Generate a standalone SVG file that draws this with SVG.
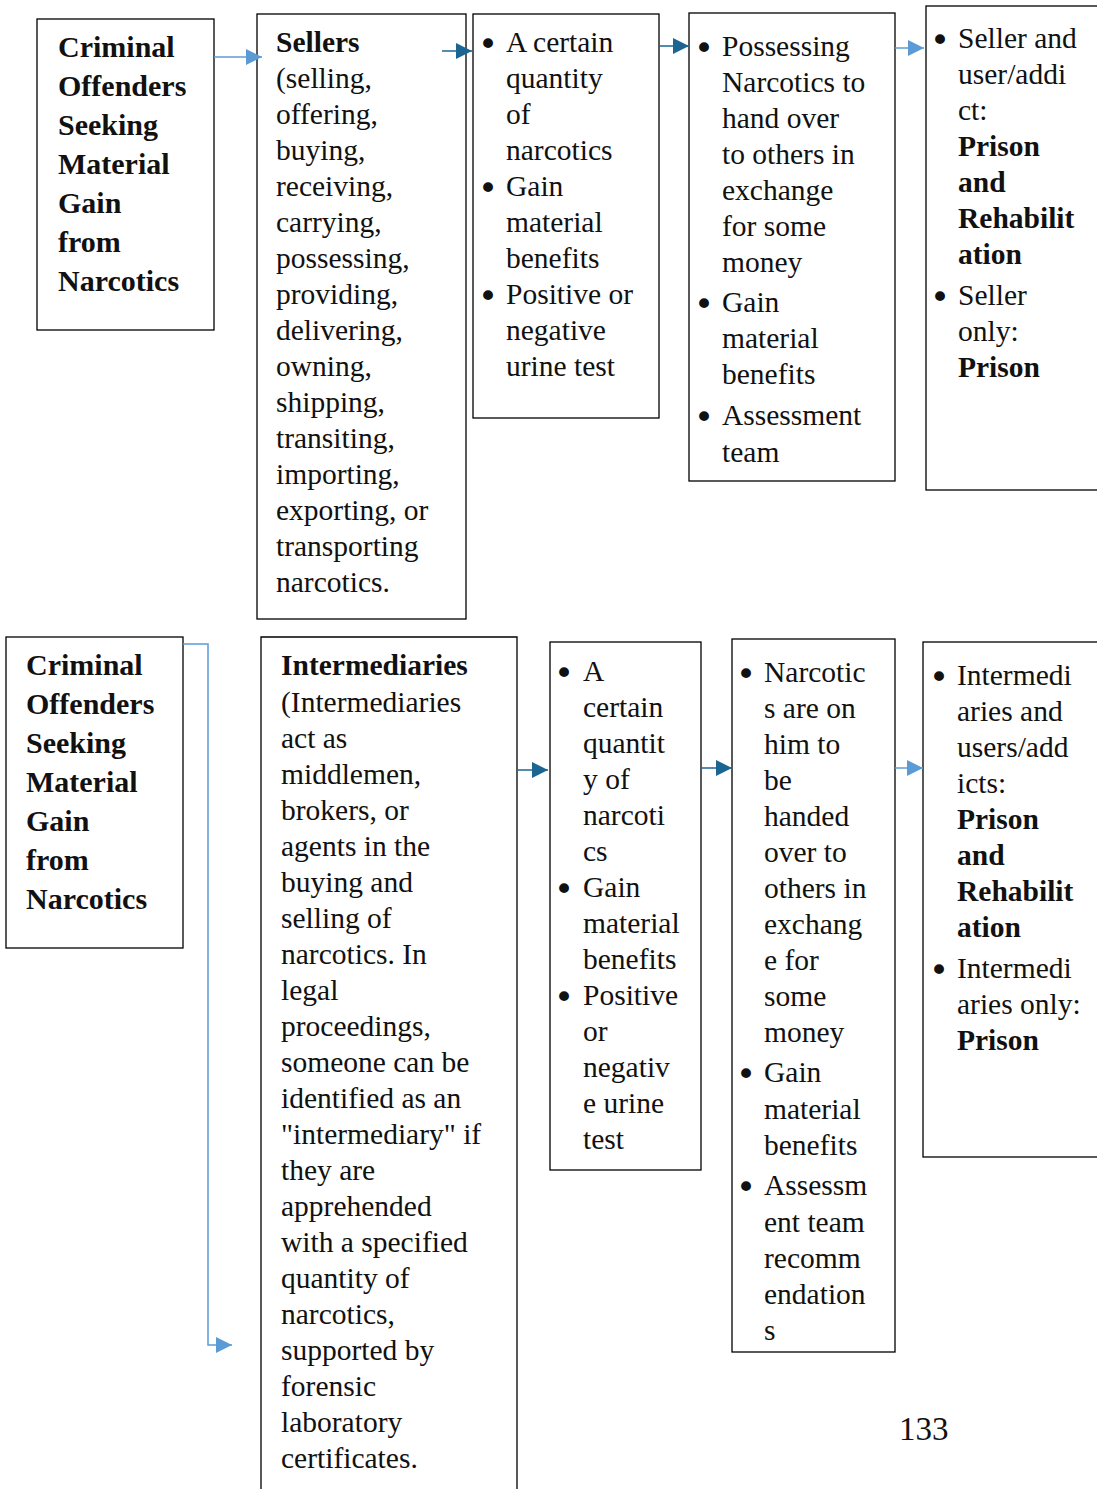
<svg xmlns="http://www.w3.org/2000/svg" width="1097" height="1489" viewBox="0 0 1097 1489" font-family="'Liberation Serif', 'DejaVu Serif', serif">
<style>
.box{fill:#fff;stroke:#000;stroke-width:1.3}
text{font-family:"Liberation Serif","DejaVu Serif",serif;font-size:29.5px;fill:#111}
.b{font-weight:bold}
.t{font-weight:bold;font-size:30px}
.bu{font-size:34px;font-family:"DejaVu Sans",sans-serif}
.lc{fill:none;stroke:#5b9bd5;stroke-width:1.5}
.dc{fill:none;stroke:#1c6491;stroke-width:1.5}
</style>
<defs>
<marker id="lab" viewBox="0 0 10 10" refX="10" refY="5" markerWidth="16" markerHeight="16" markerUnits="userSpaceOnUse" orient="auto"><path d="M0,0L10,5L0,10z" fill="#5b9bd5"/></marker>
<marker id="dab" viewBox="0 0 10 10" refX="10" refY="5" markerWidth="16" markerHeight="16" markerUnits="userSpaceOnUse" orient="auto"><path d="M0,0L10,5L0,10z" fill="#1c6491"/></marker>
</defs>

<g id="node-offenders-top">
<rect class="box" x="37" y="19" width="177" height="311"/>
<text class="t"><tspan x="58" y="57">Criminal</tspan><tspan x="58" y="96">Offenders</tspan><tspan x="58" y="135">Seeking</tspan><tspan x="58" y="174">Material</tspan><tspan x="58" y="213">Gain</tspan><tspan x="58" y="252">from</tspan><tspan x="58" y="291">Narcotics</tspan></text>
</g>

<g id="node-sellers">
<rect class="box" x="257" y="14" width="209" height="605"/>
<text><tspan class="b" x="276" y="52">Sellers</tspan><tspan x="276" y="88">(selling,</tspan><tspan x="276" y="124">offering,</tspan><tspan x="276" y="160">buying,</tspan><tspan x="276" y="196">receiving,</tspan><tspan x="276" y="232">carrying,</tspan><tspan x="276" y="268">possessing,</tspan><tspan x="276" y="304">providing,</tspan><tspan x="276" y="340">delivering,</tspan><tspan x="276" y="376">owning,</tspan><tspan x="276" y="412">shipping,</tspan><tspan x="276" y="448">transiting,</tspan><tspan x="276" y="484">importing,</tspan><tspan x="276" y="520">exporting, or</tspan><tspan x="276" y="556">transporting</tspan><tspan x="276" y="592">narcotics.</tspan></text>
</g>

<g id="node-seller-criteria">
<rect class="box" x="473" y="14" width="186" height="404"/>
<text class="bu"><tspan x="478" y="56">•</tspan><tspan x="478" y="200">•</tspan><tspan x="478" y="308">•</tspan></text>
<text><tspan x="506" y="52">A certain</tspan><tspan x="506" y="88">quantity</tspan><tspan x="506" y="124">of</tspan><tspan x="506" y="160">narcotics</tspan><tspan x="506" y="196">Gain</tspan><tspan x="506" y="232">material</tspan><tspan x="506" y="268">benefits</tspan><tspan x="506" y="304">Positive or</tspan><tspan x="506" y="340">negative</tspan><tspan x="506" y="376">urine test</tspan></text>
</g>

<g id="node-seller-possessing">
<rect class="box" x="689" y="13" width="206" height="468"/>
<text class="bu"><tspan x="694" y="60">•</tspan><tspan x="694" y="316">•</tspan><tspan x="694" y="429">•</tspan></text>
<text><tspan x="722" y="56">Possessing</tspan><tspan x="722" y="92">Narcotics to</tspan><tspan x="722" y="128">hand over</tspan><tspan x="722" y="164">to others in</tspan><tspan x="722" y="200">exchange</tspan><tspan x="722" y="236">for some</tspan><tspan x="722" y="272">money</tspan><tspan x="722" y="312">Gain</tspan><tspan x="722" y="348">material</tspan><tspan x="722" y="384">benefits</tspan><tspan x="722" y="425">Assessment</tspan><tspan x="722" y="462">team</tspan></text>
</g>

<g id="node-seller-sentence">
<rect class="box" x="926" y="6" width="180" height="484"/>
<text class="bu"><tspan x="930" y="52">•</tspan><tspan x="930" y="309">•</tspan></text>
<text><tspan x="958" y="48">Seller and</tspan><tspan x="958" y="84">user/addi</tspan><tspan x="958" y="120">ct:</tspan><tspan class="b" x="958" y="156">Prison</tspan><tspan class="b" x="958" y="192">and</tspan><tspan class="b" x="958" y="228">Rehabilit</tspan><tspan class="b" x="958" y="264">ation</tspan><tspan x="958" y="305">Seller</tspan><tspan x="958" y="341">only:</tspan><tspan class="b" x="958" y="377">Prison</tspan></text>
</g>

<g id="node-offenders-bottom">
<rect class="box" x="6" y="637" width="177" height="311"/>
<text class="t"><tspan x="26" y="675">Criminal</tspan><tspan x="26" y="714">Offenders</tspan><tspan x="26" y="753">Seeking</tspan><tspan x="26" y="792">Material</tspan><tspan x="26" y="831">Gain</tspan><tspan x="26" y="870">from</tspan><tspan x="26" y="909">Narcotics</tspan></text>
</g>

<g id="node-intermediaries">
<path class="box" d="M261,1495V637H517V1495"/>
<text><tspan class="b" x="281" y="675">Intermediaries</tspan><tspan x="281" y="712">(Intermediaries</tspan><tspan x="281" y="748">act as</tspan><tspan x="281" y="784">middlemen,</tspan><tspan x="281" y="820">brokers, or</tspan><tspan x="281" y="856">agents in the</tspan><tspan x="281" y="892">buying and</tspan><tspan x="281" y="928">selling of</tspan><tspan x="281" y="964">narcotics. In</tspan><tspan x="281" y="1000">legal</tspan><tspan x="281" y="1036">proceedings,</tspan><tspan x="281" y="1072">someone can be</tspan><tspan x="281" y="1108">identified as an</tspan><tspan x="281" y="1144">"intermediary" if</tspan><tspan x="281" y="1180">they are</tspan><tspan x="281" y="1216">apprehended</tspan><tspan x="281" y="1252">with a specified</tspan><tspan x="281" y="1288">quantity of</tspan><tspan x="281" y="1324">narcotics,</tspan><tspan x="281" y="1360">supported by</tspan><tspan x="281" y="1396">forensic</tspan><tspan x="281" y="1432">laboratory</tspan><tspan x="281" y="1468">certificates.</tspan></text>
</g>

<g id="node-intermediary-criteria">
<rect class="box" x="550" y="642" width="151" height="528"/>
<text class="bu"><tspan x="554" y="685">•</tspan><tspan x="554" y="901">•</tspan><tspan x="554" y="1009">•</tspan></text>
<text><tspan x="583" y="681">A</tspan><tspan x="583" y="717">certain</tspan><tspan x="583" y="753">quantit</tspan><tspan x="583" y="789">y of</tspan><tspan x="583" y="825">narcoti</tspan><tspan x="583" y="861">cs</tspan><tspan x="583" y="897">Gain</tspan><tspan x="583" y="933">material</tspan><tspan x="583" y="969">benefits</tspan><tspan x="583" y="1005">Positive</tspan><tspan x="583" y="1041">or</tspan><tspan x="583" y="1077">negativ</tspan><tspan x="583" y="1113">e urine</tspan><tspan x="583" y="1149">test</tspan></text>
</g>

<g id="node-intermediary-possessing">
<rect class="box" x="732" y="639" width="163" height="713"/>
<text class="bu"><tspan x="736" y="686">•</tspan><tspan x="736" y="1086">•</tspan><tspan x="736" y="1199">•</tspan></text>
<text><tspan x="764" y="682">Narcotic</tspan><tspan x="764" y="718">s are on</tspan><tspan x="764" y="754">him to</tspan><tspan x="764" y="790">be</tspan><tspan x="764" y="826">handed</tspan><tspan x="764" y="862">over to</tspan><tspan x="764" y="898">others in</tspan><tspan x="764" y="934">exchang</tspan><tspan x="764" y="970">e for</tspan><tspan x="764" y="1006">some</tspan><tspan x="764" y="1042">money</tspan><tspan x="764" y="1082">Gain</tspan><tspan x="764" y="1119">material</tspan><tspan x="764" y="1155">benefits</tspan><tspan x="764" y="1195">Assessm</tspan><tspan x="764" y="1232">ent team</tspan><tspan x="764" y="1268">recomm</tspan><tspan x="764" y="1304">endation</tspan><tspan x="764" y="1340">s</tspan></text>
</g>

<g id="node-intermediary-sentence">
<rect class="box" x="923" y="642" width="183" height="515"/>
<text class="bu"><tspan x="929" y="689">•</tspan><tspan x="929" y="982">•</tspan></text>
<text><tspan x="957" y="685">Intermedi</tspan><tspan x="957" y="721">aries and</tspan><tspan x="957" y="757">users/add</tspan><tspan x="957" y="793">icts:</tspan><tspan class="b" x="957" y="829">Prison</tspan><tspan class="b" x="957" y="865">and</tspan><tspan class="b" x="957" y="901">Rehabilit</tspan><tspan class="b" x="957" y="937">ation</tspan><tspan x="957" y="978">Intermedi</tspan><tspan x="957" y="1014">aries only:</tspan><tspan class="b" x="957" y="1050">Prison</tspan></text>
</g>

<g id="connectors">
<path class="lc" d="M214,57H262" marker-end="url(#lab)"/>
<path class="dc" d="M442,51H472" marker-end="url(#dab)"/>
<path class="dc" d="M659,46H689" marker-end="url(#dab)"/>
<path class="lc" d="M895,48H924" marker-end="url(#lab)"/>
<path class="lc" d="M183,644H208V1345H232" marker-end="url(#lab)"/>
<path class="dc" d="M517,770H548" marker-end="url(#dab)"/>
<path class="dc" d="M701,768H732" marker-end="url(#dab)"/>
<path class="lc" d="M895,768H923" marker-end="url(#lab)"/>
</g>

<text x="899" y="1440" style="font-size:33px">133</text>
</svg>
